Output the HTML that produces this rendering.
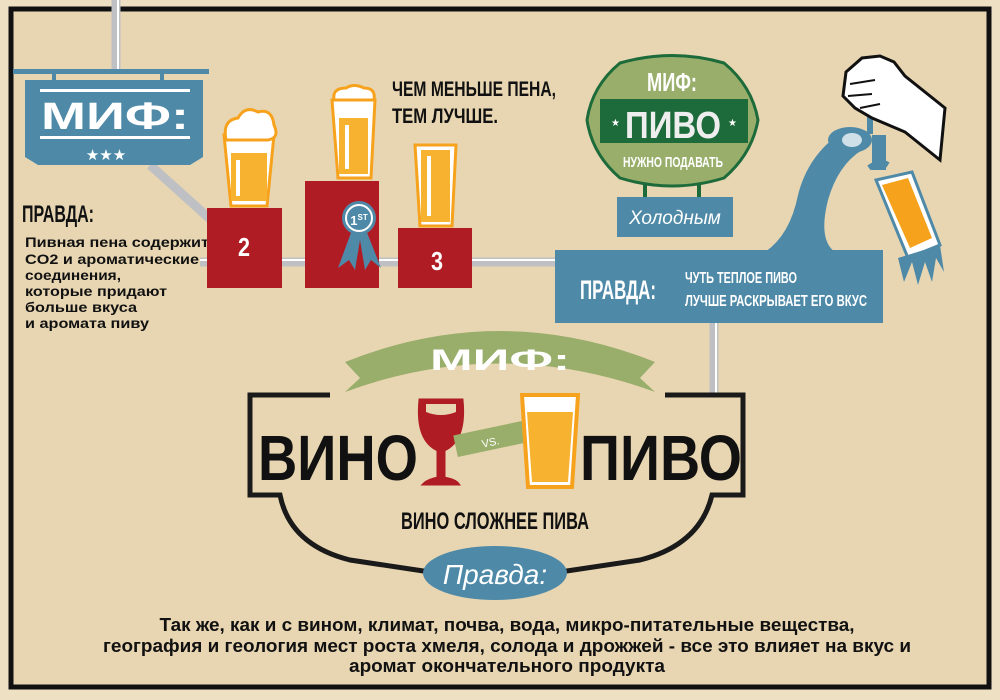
<!DOCTYPE html>
<html><head><meta charset="utf-8"><style>
html,body{margin:0;padding:0;background:#efe2c4;}
svg{display:block;}
text{font-family:"Liberation Sans","DejaVu Sans",sans-serif;}
</style></head><body>
<svg width="1000" height="700" viewBox="0 0 1000 700" xmlns="http://www.w3.org/2000/svg">
<rect x="0" y="0" width="1000" height="700" fill="#eee1c3"/>
<rect x="11" y="9" width="978" height="678" fill="#e8d6b2" stroke="#111" stroke-width="5"/>

<!-- pipes -->
<g stroke="#bfc0c4" stroke-width="9" fill="none">
<line x1="116" y1="0" x2="116" y2="72"/>
<polyline points="150,165 220,228"/>
<line x1="200" y1="262" x2="560" y2="262"/>
<line x1="714" y1="320" x2="714" y2="395"/>
</g>
<g stroke="#fff" stroke-width="2" fill="none">
<line x1="118" y1="0" x2="118" y2="72"/>
<line x1="200" y1="260" x2="560" y2="260"/>
<line x1="716" y1="320" x2="716" y2="395"/>
</g>

<!-- left sign -->
<rect x="13" y="69" width="196" height="5" fill="#4e8aa8"/>
<rect x="52" y="73" width="4" height="8" fill="#4e8aa8"/>
<rect x="160" y="73" width="4" height="8" fill="#4e8aa8"/>
<path d="M25,80 H203 V157 L190,165 H38 L25,157 Z" fill="#4e8aa8"/>
<rect x="40" y="89" width="150" height="3" fill="#fff"/>
<rect x="40" y="136" width="150" height="3" fill="#fff"/>
<text x="115" y="129" font-size="38" font-weight="bold" fill="#fff" text-anchor="middle" textLength="148" lengthAdjust="spacingAndGlyphs">МИФ:</text>
<text x="106" y="160" font-size="15" fill="#fff" text-anchor="middle">★★★</text>

<text x="22" y="222" font-size="24" font-weight="bold" fill="#111" textLength="72" lengthAdjust="spacingAndGlyphs">ПРАВДА:</text>
<g font-size="14" font-weight="bold" fill="#111">
<text x="25" y="247" textLength="184" lengthAdjust="spacingAndGlyphs">Пивная пена содержит</text>
<text x="25" y="264" textLength="174" lengthAdjust="spacingAndGlyphs">CO2 и ароматические</text>
<text x="25" y="280" textLength="96" lengthAdjust="spacingAndGlyphs">соединения,</text>
<text x="25" y="296" textLength="142" lengthAdjust="spacingAndGlyphs">которые придают</text>
<text x="25" y="312" textLength="112" lengthAdjust="spacingAndGlyphs">больше вкуса</text>
<text x="25" y="328" textLength="124" lengthAdjust="spacingAndGlyphs">и аромата пиву</text>
</g>

<!-- podiums -->
<rect x="207" y="208" width="75" height="80" fill="#b01c24"/>
<rect x="305" y="181" width="74" height="107" fill="#b01c24"/>
<rect x="398" y="228" width="74" height="60" fill="#b01c24"/>
<text x="244" y="256" font-size="26" font-weight="bold" fill="#fff" text-anchor="middle" textLength="12" lengthAdjust="spacingAndGlyphs">2</text>
<text x="437" y="270" font-size="26" font-weight="bold" fill="#fff" text-anchor="middle" textLength="12" lengthAdjust="spacingAndGlyphs">3</text>
<path d="M352,230 L338,268 L349,260 L355,270 L360,240 L365,270 L371,260 L381,268 L366,230 Z" fill="#4e8aa8"/>
<circle cx="359" cy="218" r="17" fill="#4e8aa8"/>
<circle cx="359" cy="218" r="13" fill="none" stroke="#fff" stroke-width="2"/>
<text x="359" y="225" font-size="13" font-weight="bold" fill="#fff" text-anchor="middle">1<tspan font-size="8" dy="-5">ST</tspan></text>

<!-- glasses -->
<g stroke="#f7a21c" stroke-width="3" fill="#fff">
<path d="M224,135 L274,135 L267,206 L231,206 Z"/>
<path d="M332,100 L375,100 L371,178 L338,178 Z"/>
<path d="M415,145 L456,145 L452,226 L420,226 Z"/>
</g>
<path d="M226,140 Q222,120 238,118 Q245,105 258,112 Q272,108 274,125 Q280,138 268,140 Z" fill="#fff" stroke="#f7a21c" stroke-width="3"/>
<path d="M334,100 Q332,88 346,88 Q354,83 364,88 Q376,88 374,100 Z" fill="#fff" stroke="#f7a21c" stroke-width="3"/>
<rect x="231" y="153" width="36" height="48" fill="#f7b230"/>
<rect x="339" y="118" width="29" height="56" fill="#f7b230"/>
<rect x="421" y="150" width="29" height="72" fill="#f7b230"/>
<g fill="#fff"><rect x="236" y="160" width="4" height="36"/><rect x="345" y="125" width="4" height="44"/><rect x="427" y="156" width="4" height="60"/></g>

<g font-size="21" font-weight="bold" fill="#111">
<text x="392" y="96" textLength="164" lengthAdjust="spacingAndGlyphs">ЧЕМ МЕНЬШЕ ПЕНА,</text>
<text x="392" y="123" textLength="106" lengthAdjust="spacingAndGlyphs">ТЕМ ЛУЧШЕ.</text>
</g>

<!-- green sign -->
<rect x="643" y="183" width="4" height="18" fill="#1d6b3a"/>
<rect x="697" y="183" width="4" height="18" fill="#1d6b3a"/>
<path d="M620,63 Q672,48 724,63 Q752,86 758,120 Q752,154 724,178 Q672,194 620,178 Q592,154 587,120 Q592,86 620,63 Z" fill="#98ae6a" stroke="#1d6b3a" stroke-width="3"/>
<rect x="600" y="99" width="148" height="44" fill="#1d6b3a"/>
<text x="672" y="91" font-size="26" font-weight="bold" fill="#fff" text-anchor="middle" textLength="50" lengthAdjust="spacingAndGlyphs">МИФ:</text>
<text x="673" y="138" font-size="38" font-weight="bold" fill="#eee" text-anchor="middle" textLength="96" lengthAdjust="spacingAndGlyphs">ПИВО</text>
<text x="611" y="126" font-size="10" fill="#fff">★</text><text x="728" y="126" font-size="10" fill="#fff">★</text>
<text x="673" y="167" font-size="15" font-weight="bold" fill="#fff" text-anchor="middle" textLength="100" lengthAdjust="spacingAndGlyphs">НУЖНО ПОДАВАТЬ</text>
<rect x="617" y="197" width="116" height="40" fill="#4e8aa8"/>
<text x="675" y="224" font-size="19" font-style="italic" fill="#fff" text-anchor="middle" font-family="Liberation Serif,serif">Холодным</text>

<!-- tap -->
<path d="M765,252 Q790,235 798,195 Q808,155 842,132 L862,150 Q838,165 828,200 Q818,240 835,252 Z" fill="#4e8aa8"/>
<ellipse cx="850" cy="140" rx="22" ry="13" fill="#4e8aa8"/>
<ellipse cx="852" cy="140" rx="10" ry="7" fill="#cfe0e8"/>
<rect x="872" y="135" width="14" height="35" fill="#4e8aa8"/>
<path d="M869,168 Q880,160 888,165" stroke="#4e8aa8" stroke-width="6" fill="none"/>
<path d="M876,180 L912,172 L940,245 L908,258 Z" fill="#fff" stroke="#4e8aa8" stroke-width="3"/>
<path d="M882,185 L908,178 L932,238 L910,248 Z" fill="#f7a21c"/>
<path d="M898,258 L904,282 L912,262 L918,285 L925,262 L932,282 L936,258 L944,272 L940,245 Z" fill="#4e8aa8"/>
<rect x="867" y="112" width="6" height="22" fill="#4e8aa8"/>
<path d="M846,72 L862,58 L880,56 L894,62 L905,76 L945,108 L940,160 L905,132 L872,118 L855,108 L843,96 Z" fill="#fff" stroke="#111" stroke-width="3"/>
<path d="M850,84 L875,80 M848,96 L872,94 M860,108 L880,104" stroke="#111" stroke-width="2"/>

<!-- правда box -->
<rect x="555" y="250" width="328" height="73" fill="#4e8aa8"/>
<text x="580" y="299" font-size="27" font-weight="bold" fill="#fff" textLength="76" lengthAdjust="spacingAndGlyphs">ПРАВДА:</text>
<text x="685" y="283" font-size="16" font-weight="bold" fill="#fff" textLength="112" lengthAdjust="spacingAndGlyphs">ЧУТЬ ТЕПЛОЕ ПИВО</text>
<text x="685" y="306" font-size="16" font-weight="bold" fill="#fff" textLength="182" lengthAdjust="spacingAndGlyphs">ЛУЧШЕ РАСКРЫВАЕТ ЕГО ВКУС</text>

<!-- bottom banner -->
<path d="M330,395 H250 V495 H280 Q290,545 350,560 L430,572 M560,572 L640,560 Q700,545 712,495 H743 V395 H665" fill="none" stroke="#1a1a1a" stroke-width="5"/>
<path d="M345,362 Q500,300 655,362 L640,378 L655,392 Q500,335 345,392 L360,378 Z" fill="#98ae6a"/>
<text x="500" y="370" font-size="30" font-weight="bold" fill="#fff" text-anchor="middle" textLength="140" lengthAdjust="spacingAndGlyphs">МИФ:</text>
<text x="258" y="480" font-size="64" font-weight="bold" fill="#111" textLength="160" lengthAdjust="spacingAndGlyphs">ВИНО</text>
<text x="580" y="480" font-size="64" font-weight="bold" fill="#111" textLength="162" lengthAdjust="spacingAndGlyphs">ПИВО</text>
<path d="M420,400 H462 Q466,440 444,450 V478 Q455,480 458,484 H424 Q428,480 438,478 V450 Q416,440 420,400 Z" fill="#b01c24" stroke="#b01c24" stroke-width="3"/>
<path d="M426,404 H456 V412 Q441,418 426,412 Z" fill="#e8d6b2"/>
<rect x="455" y="428" width="70" height="22" fill="#98ae6a" transform="rotate(-12 490 440)"/>
<text x="490" y="446" font-size="11" fill="#fff" text-anchor="middle" transform="rotate(-12 490 440)">VS.</text>
<path d="M522,395 H578 L572,487 H528 Z" fill="#fff" stroke="#f7a21c" stroke-width="4"/>
<path d="M527,412 H573 L568,482 H532 Z" fill="#f7b230"/>
<text x="495" y="529" font-size="24" font-weight="bold" fill="#111" text-anchor="middle" textLength="188" lengthAdjust="spacingAndGlyphs">ВИНО СЛОЖНЕЕ ПИВА</text>
<ellipse cx="495" cy="573" rx="72" ry="27" fill="#4e8aa8"/>
<text x="495" y="584" font-size="28" font-style="italic" fill="#fff" text-anchor="middle" font-family="Liberation Serif,serif">Правда:</text>

<g font-size="18" font-weight="bold" fill="#111" text-anchor="middle">
<text x="507" y="631" textLength="695" lengthAdjust="spacingAndGlyphs">Так же, как и с вином, климат, почва, вода, микро-питательные вещества,</text>
<text x="507" y="652" textLength="808" lengthAdjust="spacingAndGlyphs">география и геология мест роста хмеля, солода и дрожжей - все это влияет на вкус и</text>
<text x="507" y="672" textLength="316" lengthAdjust="spacingAndGlyphs">аромат окончательного продукта</text>
</g>
</svg>
</body></html>
